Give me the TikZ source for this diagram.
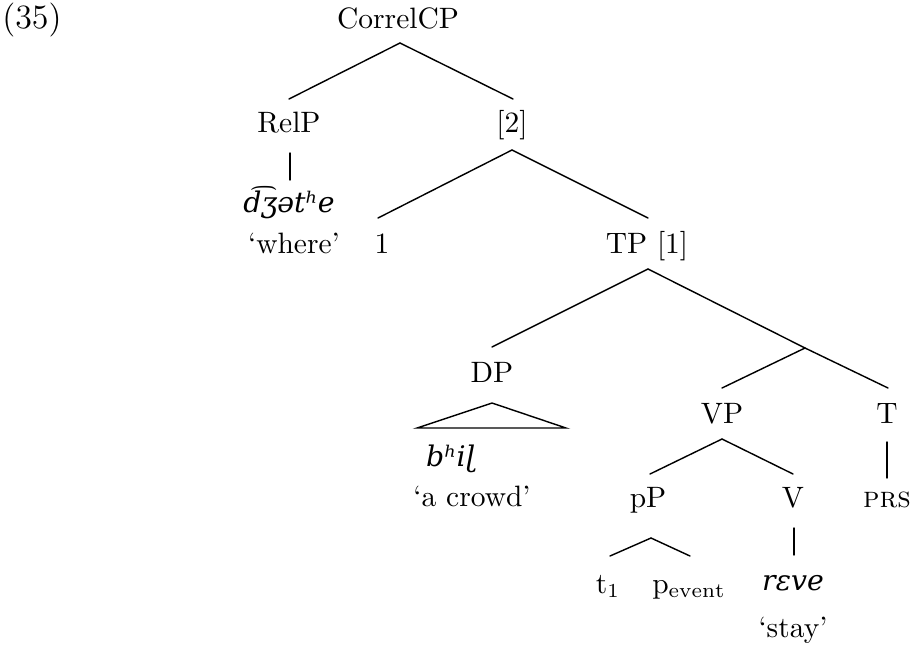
\documentclass[tikz,border=0pt]{standalone}
\usepackage{fontspec}
\newfontfamily\ipafont[Scale=1.0]{DejaVu Serif}
\usetikzlibrary{calc}
\tikzset{
  lbl/.style={anchor=base, inner sep=0pt, font=\fontsize{10.4}{12.5}\selectfont},
  ipa/.style={anchor=base, inner sep=0pt, font=\ipafont\itshape},
  edge/.style={line width=0.5pt, line cap=round},
}
\begin{document}
\begin{tikzpicture}[x=0.3528pt,y=-0.3528pt]
\useasboundingbox (0,0) rectangle (914,648);
% labels
\node[lbl, font=\fontsize{12}{14}\selectfont] (ex) at (32,28) {(35)};
\node[lbl] (correl) at (398,28) {CorrelCP};
\node[lbl] (relp) at (289,132) {RelP};
\node[lbl] (two) at (512,132) {[2]};
\node[ipa] (dzh) at (289,212) {d͡ʒətʰe};
\node[lbl] (where) at (294,253) {‘where’};
\node[lbl] (one) at (382,253) {1};
\node[lbl] (tp) at (647,253) {TP [1]};
\node[lbl] (dp) at (492,382) {DP};
\node[ipa] (bhir) at (451,466) {bʰiɭ};
\node[lbl] (crowd) at (472,506) {‘a crowd’};
\node[lbl] (vp) at (722,423) {VP};
\node[lbl] (t) at (887,423) {T};
\node[lbl] (pp) at (648,507) {pP};
\node[lbl] (v) at (793,507) {V};
\node[lbl] (prs) at (887,507) {\textsc{prs}};
\node[lbl] (t1) at (608,593) {t$_1$};
\node[lbl] (pev) at (689,593) {p$_{\mathrm{event}}$};
\node[ipa] (reve) at (793,590) {rɛve};
\node[lbl] (stay) at (793,637) {‘stay’};
\coordinate (tbar) at (805,348);
% connectors
\draw[edge] ($(correl.base)+(2,15)$) -- ($(relp.base)+(0,-33)$);
\draw[edge] ($(correl.base)+(2,15)$) -- ($(two.base)+(1,-33)$);
\draw[edge] ($(relp.base)+(1,21)$) -- ($(dzh.base)+(1,-32)$);
\draw[edge] ($(two.base)+(0,18)$) -- ($(one.base)+(-4,-35)$);
\draw[edge] ($(two.base)+(0,18)$) -- ($(tp.base)+(1,-35)$);
\draw[edge] ($(tp.base)+(1,16)$) -- ($(dp.base)+(0,-35)$);
\draw[edge] ($(tp.base)+(1,16)$) -- (tbar);
\draw[edge] (tbar) -- ($(vp.base)+(0,-35)$);
\draw[edge] (tbar) -- ($(t.base)+(1,-35)$);
% DP roof
\coordinate (roofl) at (417,428);
\coordinate (roofr) at (566,428);
\draw[edge] ($(dp.base)+(0,21)$) -- (roofr) -- (roofl) -- cycle;
\draw[edge] ($(vp.base)+(0,16)$) -- ($(pp.base)+(2,-33)$);
\draw[edge] ($(vp.base)+(0,16)$) -- ($(v.base)+(0,-33)$);
\draw[edge] ($(t.base)+(0,19)$) -- ($(prs.base)+(0,-29)$);
\draw[edge] ($(pp.base)+(3,31)$) -- ($(t1.base)+(2,-37)$);
\draw[edge] ($(pp.base)+(3,31)$) -- ($(pev.base)+(1,-37)$);
\draw[edge] ($(v.base)+(1,21)$) -- ($(reve.base)+(1,-35)$);
\end{tikzpicture}
\end{document}
